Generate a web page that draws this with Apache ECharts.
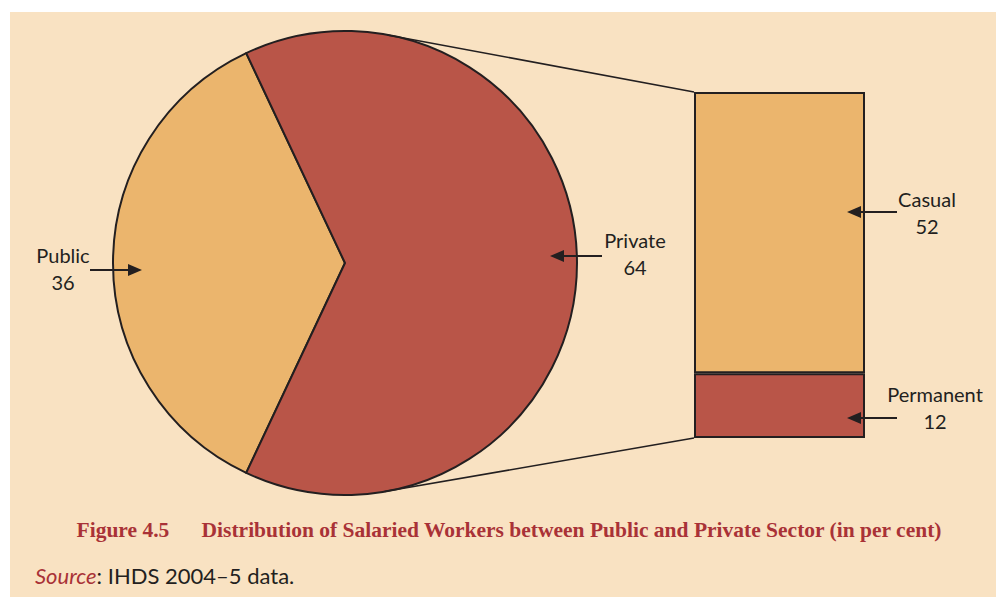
<!DOCTYPE html>
<html>
<head>
<meta charset="utf-8">
<script src="https://cdn.jsdelivr.net/npm/echarts@6/dist/echarts.min.js"></script>
<style>
html,body{margin:0;padding:0;background:#fff;}
#chart{width:996px;height:597px;}
</style>
</head>
<body>
<div id="chart"></div>
<script>
// ---- data ----
const pieCategories = ['Public', 'Private'];
const pieValues = [36, 64];
const barCategories = ['Casual', 'Permanent'];
const barValues = [52, 12];
const captionTitle = 'Figure 4.5\u2003\u2002Distribution of Salaried Workers between Public and Private Sector (in per cent)';
const sourceText = 'IHDS 2004\u20135 data.';

// ---- layout ----
const BG = '#F9E2C2';
const ORANGE = '#EBB56D';
const RED = '#B95548';
const INK = '#231F20';
const CAPTION = '#A93237';
const pieCenter = [345, 263];
const pieRadius = 232;
const grid = { left: 694, top: 92, width: 171, height: 346 };

const total = pieValues.reduce((a, b) => a + b, 0);
const publicSpan = pieValues[0] / total * 360;
const startAngle = 180 + publicSpan / 2;
const barTotal = barValues.reduce((a, b) => a + b, 0);

const chart = echarts.init(document.getElementById('chart'), null, { renderer: 'svg' });

// tangent points from an outside point P to the pie circle
function tangentPoints(P) {
  const dx = P[0] - pieCenter[0], dy = P[1] - pieCenter[1];
  const d = Math.sqrt(dx * dx + dy * dy);
  const base = Math.atan2(dy, dx);
  const off = Math.acos(pieRadius / d);
  return [base - off, base + off].map(a => [pieCenter[0] + pieRadius * Math.cos(a), pieCenter[1] + pieRadius * Math.sin(a)]);
}
const barTopLeft = [grid.left, grid.top];
const barBotLeft = [grid.left, grid.top + grid.height];
const topStart = tangentPoints(barTopLeft).sort((a, b) => a[1] - b[1])[0];
const botStart = tangentPoints(barBotLeft).sort((a, b) => b[1] - a[1])[0];

function arrow(x1, y1, x2, y2) {
  const dir = Math.sign(x2 - x1);
  const headLen = 14, headHalf = 6;
  return [
    { type: 'line', z: 200, shape: { x1: x1, y1: y1, x2: x2 - dir * headLen + dir * 2, y2: y2 },
      style: { stroke: INK, lineWidth: 2 } },
    { type: 'polygon', z: 200, shape: { points: [[x2, y2], [x2 - dir * headLen, y2 - headHalf], [x2 - dir * headLen, y2 + headHalf]] },
      style: { fill: INK } }
  ];
}
function label(x, y, name, value) {
  return {
    type: 'text', z: 200, x: x, y: y,
    style: {
      text: name + '\n' + value,
      fill: INK,
      font: '20px Lato, "Noto Sans", sans-serif',
      align: 'center', verticalAlign: 'middle',
      lineHeight: 27
    }
  };
}

const option = {
  animation: false,
  backgroundColor: BG,
  grid: { left: grid.left, top: grid.top, width: grid.width, height: grid.height },
  xAxis: { type: 'category', data: ['Private'], show: false },
  yAxis: { type: 'value', min: 0, max: barTotal, show: false },
  series: [
    {
      type: 'pie',
      z: 2,
      center: pieCenter,
      radius: pieRadius,
      startAngle: startAngle,
      clockwise: true,
      label: { show: false },
      labelLine: { show: false },
      emphasis: { disabled: true },
      itemStyle: { borderColor: INK, borderWidth: 2 },
      data: pieCategories.map((c, i) => ({ name: c, value: pieValues[i], itemStyle: { color: i === 0 ? ORANGE : RED } }))
    },
    {
      type: 'bar', name: barCategories[1], stack: 'p', z: 2,
      barWidth: '100%',
      data: [barValues[1]],
      itemStyle: { color: RED, borderColor: INK, borderWidth: 2 },
      emphasis: { disabled: true }
    },
    {
      type: 'bar', name: barCategories[0], stack: 'p', z: 2,
      barWidth: '100%',
      data: [barValues[0]],
      itemStyle: { color: ORANGE, borderColor: INK, borderWidth: 2 },
      emphasis: { disabled: true }
    }
  ],
  graphic: {
    z: 100,
    elements: [
      { type: 'rect', z: 200, shape: { x: 0, y: 0, width: 996, height: 12 }, style: { fill: '#ffffff' } },
      { type: 'rect', z: 200, shape: { x: 0, y: 0, width: 10, height: 597 }, style: { fill: '#ffffff' } },
      { type: 'line', z: 200, shape: { x1: topStart[0], y1: topStart[1], x2: barTopLeft[0], y2: barTopLeft[1] }, style: { stroke: INK, lineWidth: 1.5 } },
      { type: 'line', z: 200, shape: { x1: botStart[0], y1: botStart[1], x2: barBotLeft[0], y2: barBotLeft[1] }, style: { stroke: INK, lineWidth: 1.5 } },
      label(63, 268, pieCategories[0], pieValues[0]),
      ...arrow(90, 270, 142, 270),
      label(635, 253, pieCategories[1], pieValues[1]),
      ...arrow(602, 256, 550, 256),
      label(927, 212, barCategories[0], barValues[0]),
      ...arrow(897, 212, 847, 212),
      label(935, 407, barCategories[1], barValues[1]),
      ...arrow(897, 418, 847, 418),
      {
        type: 'text', z: 200, x: 509, y: 530,
        style: {
          text: captionTitle,
          fill: CAPTION,
          font: 'bold 21.5px "Liberation Serif", "DejaVu Serif", serif',
          align: 'center', verticalAlign: 'middle'
        }
      },
      {
        type: 'text', z: 200, x: 35, y: 575,
        style: {
          text: '{i|Source}{n|: ' + sourceText + '}',
          align: 'left', verticalAlign: 'middle',
          rich: {
            i: { fill: CAPTION, font: 'italic 22px Lato, "Noto Sans", sans-serif' },
            n: { fill: INK, font: '22px Lato, "Noto Sans", sans-serif' }
          }
        }
      }
    ]
  }
};
chart.setOption(option);
</script>
</body>
</html>
